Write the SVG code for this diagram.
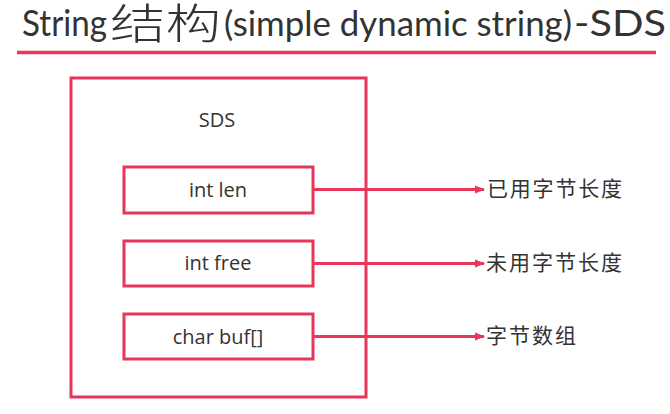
<svg xmlns="http://www.w3.org/2000/svg" width="670" height="414" viewBox="0 0 670 414">
  <style>
    .frame { fill: #ffffff; stroke: #e6375a; stroke-width: 3; }
    .field { fill: #ffffff; stroke: #e6375a; stroke-width: 3; }
    .link { stroke: #e6375a; stroke-width: 3; fill: none; }
    .lbl { font-family: "Open Sans", "Noto Sans", "Liberation Sans", sans-serif; font-size: 20px; fill: #333333; text-anchor: middle; }
    .note { font-family: "Noto Sans CJK SC", sans-serif; font-size: 21px; fill: #333333; }
    .title { font-family: "Lato", "Open Sans", sans-serif; fill: #333333; }
    .title-cjk { font-family: "Noto Sans CJK SC", sans-serif; font-weight: 300; fill: #333333; }
  </style>
  <defs>
    <marker id="arrow" viewBox="0 0 10 10" refX="9" refY="5" markerWidth="10" markerHeight="10" markerUnits="userSpaceOnUse" orient="auto">
      <path d="M0,1 L10,5 L0,9 Z" fill="#e6375a"/>
    </marker>
  </defs>
  <rect width="670" height="414" fill="#ffffff"/>

  <!-- heading -->
  <g id="heading">
    <text class="title" x="22" y="36" font-size="36" textLength="85" lengthAdjust="spacingAndGlyphs">String</text>
    <text class="title-cjk" x="110" y="39" font-size="42" textLength="111" lengthAdjust="spacingAndGlyphs">结构</text>
    <text class="title" x="224" y="36" font-size="34" textLength="348" lengthAdjust="spacingAndGlyphs">(simple dynamic string)</text>
    <text class="title" x="574" y="36" font-size="36" textLength="92" lengthAdjust="spacingAndGlyphs">-SDS</text>
    <line x1="17" y1="52.5" x2="656" y2="52.5" stroke="#e6375a" stroke-width="3.5"/>
  </g>

  <!-- SDS structure -->
  <g id="sds">
    <rect class="frame" x="71" y="78" width="295" height="319"/>
    <text class="lbl" x="217" y="127">SDS</text>
  </g>

  <!-- connectors -->
  <g id="connectors">
    <line class="link" x1="313" y1="189.5" x2="484" y2="189.5" marker-end="url(#arrow)"/>
    <line class="link" x1="313" y1="263.5" x2="484" y2="263.5" marker-end="url(#arrow)"/>
    <line class="link" x1="313" y1="336.5" x2="484" y2="336.5" marker-end="url(#arrow)"/>
  </g>

  <g id="field-len">
    <rect class="field" x="124" y="167" width="189" height="46"/>
    <text class="lbl" x="218" y="197">int len</text>
  </g>
  <g id="field-free">
    <rect class="field" x="124" y="241" width="189" height="45"/>
    <text class="lbl" x="218" y="270">int free</text>
  </g>
  <g id="field-buf">
    <rect class="field" x="124" y="314" width="189" height="45"/>
    <text class="lbl" x="218" y="344">char buf[]</text>
  </g>

  <g id="note-len">
    <text class="note" x="487" y="196" textLength="135" lengthAdjust="spacing">已用字节长度</text>
  </g>
  <g id="note-free">
    <text class="note" x="486" y="270" textLength="136" lengthAdjust="spacing">未用字节长度</text>
  </g>
  <g id="note-buf">
    <text class="note" x="486" y="343" textLength="90" lengthAdjust="spacing">字节数组</text>
  </g>
</svg>
